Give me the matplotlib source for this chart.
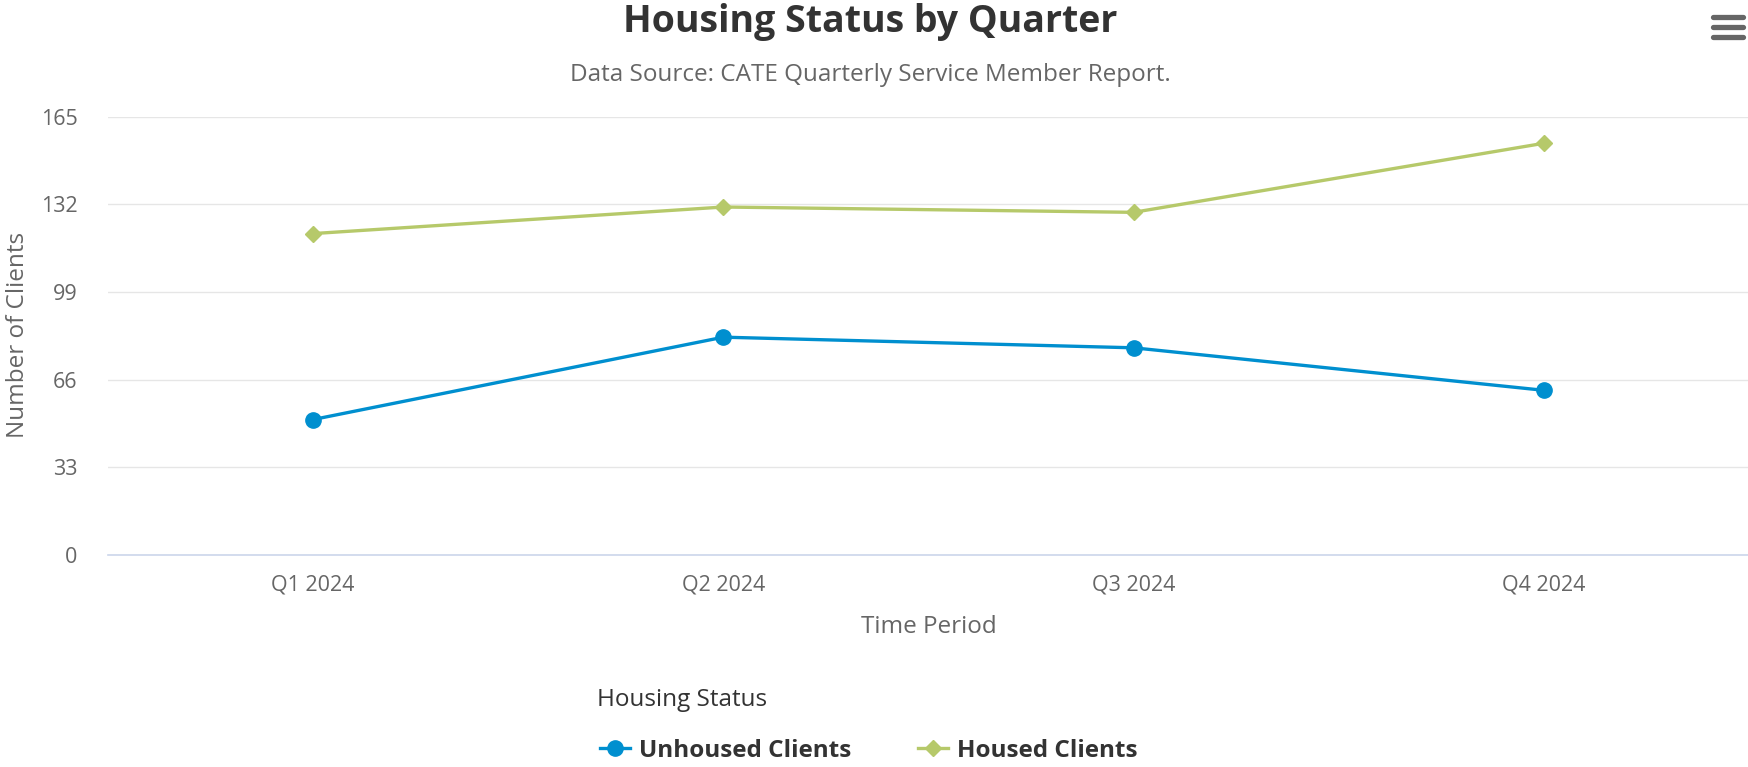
import matplotlib
matplotlib.use("Agg")
import matplotlib.pyplot as plt
from matplotlib.lines import Line2D

# datos
quarters = ["Q1 2024", "Q2 2024", "Q3 2024", "Q4 2024"]
unhoused = [51, 82, 78, 62]
housed = [121, 131, 129, 155]
y_ticks = [0, 33, 66, 99, 132, 165]

blue = "#008FCF"
green = "#B6C96A"

plt.rcParams["font.family"] = ["Open Sans", "DejaVu Sans"]

W, H = 1749, 767
fig = plt.figure(figsize=(W / 100, H / 100), dpi=100)
ax = fig.add_axes([108 / W, 1 - 555 / H, 1 - 108 / W, (555 - 116.7) / H])

x = range(len(quarters))
ax.plot(x, unhoused, color=blue, lw=2.4, marker="o", ms=11, label="Unhoused Clients", zorder=3)
ax.plot(x, housed, color=green, lw=2.4, marker="D", ms=8.5, label="Housed Clients", zorder=3)

ax.set_xlim(-0.5, len(quarters) - 0.5)
ax.set_ylim(0, 165)
ax.set_yticks(y_ticks)
ax.set_xticks(list(x))
ax.set_xticklabels(quarters)
ax.grid(axis="y", color="#e6e6e6", lw=1)
ax.set_axisbelow(True)
for s in ["top", "right", "left"]:
    ax.spines[s].set_visible(False)
ax.spines["bottom"].set_color("#ccd6eb")
ax.spines["bottom"].set_linewidth(1.2)
ax.tick_params(axis="both", length=0, labelsize=15.5, colors="#666666")
ax.tick_params(axis="x", pad=14)
ax.tick_params(axis="y", pad=22)

ax.set_xlabel("Time Period", fontsize=17.5, color="#666666", labelpad=14)
fig.text(6 / W, 1 - 335 / H, "Number of Clients", rotation=90, ha="left", va="center",
         fontsize=17.5, color="#666666")

fig.text(870 / W, 1 - 22 / H, "Housing Status by Quarter", ha="center", va="center",
         fontsize=27, fontweight="bold", color="#333333")
fig.text(870 / W, 1 - 75 / H, "Data Source: CATE Quarterly Service Member Report.",
         ha="center", va="center", fontsize=17.5, color="#666666")

# leyenda
fig.text(597 / W, 1 - 700 / H, "Housing Status", ha="left", va="center",
         fontsize=17.5, color="#333333")
leg = fig.legend(loc="center left", bbox_to_anchor=(578 / W, 1 - 751 / H), ncol=2,
                 frameon=False, prop={"size": 17.5, "weight": "bold"},
                 handlelength=1.25, handletextpad=0.35, columnspacing=2.75)
for t in leg.get_texts():
    t.set_color("#333333")

# icono de menu
for yy in [17, 27, 37]:
    fig.add_artist(Line2D([1713 / W, 1743 / W], [1 - yy / H, 1 - yy / H], lw=3.8,
                          color="#666666", solid_capstyle="round"))

fig.savefig("out.png", dpi=100)
